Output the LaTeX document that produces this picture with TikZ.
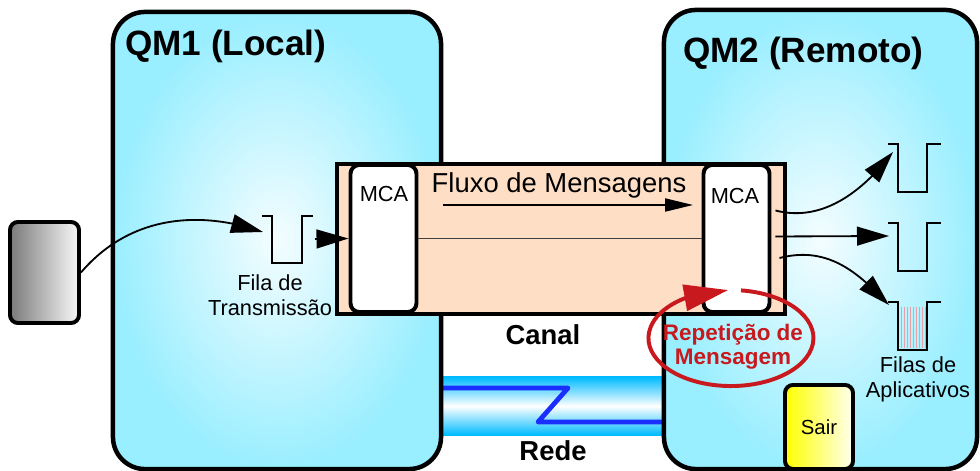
\documentclass[tikz,border=0pt]{standalone}
\usepackage{fontspec}
\setmainfont{Liberation Sans}
\usetikzlibrary{positioning,arrows.meta,bending,calc}
\definecolor{qmcyan}{HTML}{99EEFF}
\definecolor{qmlight}{HTML}{F4FDFF}
\definecolor{peach}{HTML}{FFDEC6}
\definecolor{pipecyan}{HTML}{00BBFF}
\definecolor{netblue}{HTML}{1A2EFF}
\definecolor{replred}{HTML}{C81A1E}
\definecolor{msgpink}{HTML}{E8A0AA}
\definecolor{srcgray}{HTML}{7A7A7A}
\definecolor{sairyellow}{HTML}{FFFF00}

\begin{document}
\begin{tikzpicture}[x=0.025cm, y=-0.025cm,
  qmbox/.style={draw, line width=3.2pt, rounded corners=0.8cm, inner color=qmlight, outer color=qmcyan},
  mcabox/.style={draw, fill=white, line width=2.8pt, rounded corners=0.22cm, minimum width=1.65cm, minimum height=3.675cm},
  fila/.style={line width=1.4pt},
  seta/.style={line width=1.3pt, -{Triangle[length=0.8cm, width=0.47cm]}},
  txt/.style={font=\fontsize{15.5}{17.5}\selectfont, align=center, inner sep=0pt},
  btxt/.style={font=\fontsize{19.5}{22}\selectfont\bfseries, inner sep=0pt},
  title/.style={font=\fontsize{25}{28}\selectfont\bfseries, inner sep=0pt, anchor=base west}]
\useasboundingbox (0,0) rectangle (980,471);

% Network pipe (under the queue managers)
\node[shade, top color=pipecyan, bottom color=pipecyan, middle color=white,
      minimum width=5.7cm, minimum height=1.45cm, inner sep=0pt] (rede) at (554,406) {};
\draw[netblue, line width=3.4pt, line join=round] (441,388) -- (568,388) -- (538,422) -- (667,422);

% Queue managers
\node[qmbox, minimum width=8.2cm, minimum height=11.425cm] (qm1) at (277,240.5) {};
\node[qmbox, minimum width=7.825cm, minimum height=11.475cm] (qm2) at (820.5,239.5) {};
\node[title] (t1) at (125,56) {QM1 (Local)};
\node[title] (t2) at (683,63) {QM2 (Remoto)};

% Channel
\node[draw, fill=peach, line width=2.8pt, minimum width=11.2cm, minimum height=3.75cm] (canal) at (561,239) {};
\node[mcabox] (mca1) at (383.5,238.5) {};
\node[mcabox] (mca2) at (736.5,238.5) {};
\node[txt, anchor=base] (mcat1) at (384,202) {MCA};
\node[txt, anchor=base] (mcat2) at (735,204) {MCA};
\draw[line width=0.8pt, black!75] (mca1.east) -- (mca2.west);
\node[font=\fontsize{19.5}{22}\selectfont, inner sep=0pt, anchor=base] (fluxo) at (559,193) {Fluxo de Mensagens};
\coordinate (f0) at (443,205);
\coordinate (f1) at (693,205);
\draw[line width=1pt, -{Triangle[length=0.7cm, width=0.33cm]}] (f0) -- (f1);
\node[btxt, anchor=base] (lblcanal) at (543,345) {Canal};
\node[btxt, anchor=base] (lblrede) at (553,460) {Rede};

% Transmission queue
\draw[fila] (262,216) -- (272,216) -- (272,263) -- (302,263) -- (302,216) -- (313,216);
\coordinate (xqin) at (263,232);
\coordinate (xqout) at (315,239);
\node[txt] (lblxq) at (270,295) {Fila de\\Transmissão};

% Application
\node[draw, line width=2.8pt, rounded corners=0.2cm, left color=srcgray, right color=white!95!gray,
      minimum width=1.725cm, minimum height=2.525cm] (src) at (44.5,272.5) {};
\draw[seta] (src.east) .. controls (130,215) and (200,210) .. (xqin);
\draw[seta] (xqout) -- (mca1.west);

% Application queues
\foreach \x in {901,904,...,925} {
    \draw[msgpink, line width=0.5pt] (\x,307) -- (\x,348);
}
\foreach \n/\y in {1/144, 2/223, 3/302} {
    \draw[fila] (888,\y) -- (898,\y) -- (898,\y+48) -- (927,\y+48) -- (927,\y) -- (941,\y);
}
\coordinate (aq1) at (893,152);
\coordinate (aq2) at (889,236);
\coordinate (aq3) at (889,305);
\draw[seta] ($(mca2.east)+(4,-28)$) .. controls (820,222) and (860,195) .. (aq1);
\draw[seta] ($(mca2.east)+(4,-2)$) -- (aq2);
\draw[seta] ($(mca2.east)+(8,19.5)$) .. controls (830,245) and (860,275) .. (aq3);
\node[txt] (lblaq) at (918,379.5) {Filas de\\Aplicativos};

% Message retry
\draw[replred, line width=2.8pt, -{Triangle[length=1.1cm, width=0.65cm]}]
    (741,290.4) arc[start angle=-83, end angle=268, x radius=82.5, y radius=48];
\node[txt, text=replred, font=\fontsize{16}{17}\selectfont\bfseries] (rep) at (733,347) {Repetição de\\Mensagem};

% Exit button
\node[draw, line width=2.8pt, rounded corners=0.2cm, left color=sairyellow, right color=yellow!6!white,
      minimum width=1.7cm, minimum height=2.1cm, text height=1.1em, text depth=0pt,
      font=\fontsize{14.5}{16}\selectfont] (sair) at (819,427) {Sair};

\end{tikzpicture}
\end{document}
